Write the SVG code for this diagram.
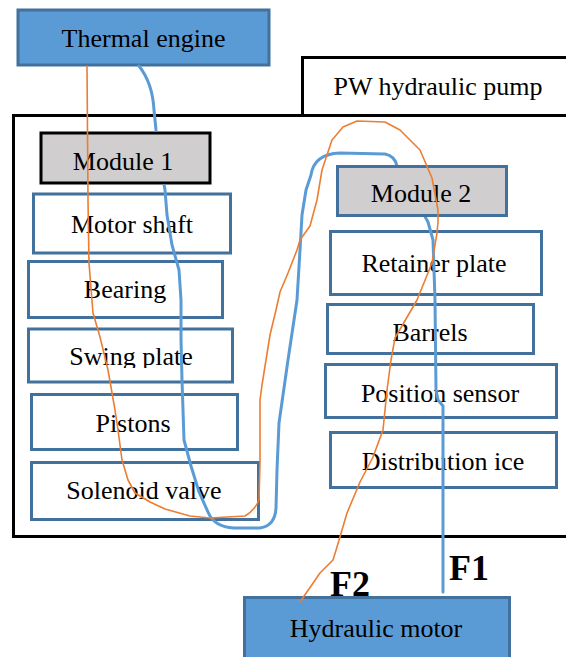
<svg xmlns="http://www.w3.org/2000/svg" width="566" height="657" viewBox="0 0 566 657">
<style>
  .t{font-family:"Liberation Serif","Times New Roman",serif;font-size:26px;fill:#000;text-anchor:middle}
  .f{font-family:"Liberation Serif","Times New Roman",serif;font-size:36px;font-weight:bold;fill:#000}
  .blue{fill:#5B9BD5;stroke:#41719C;stroke-width:3}
  .box{fill:none;stroke:#41719C;stroke-width:3}
  .mod{fill:#D0CECE;stroke-width:3}
  .frame{fill:none;stroke:#000;stroke-width:3}
  .c1{fill:none;stroke:#5B9BD5;stroke-width:3;stroke-linejoin:round;stroke-linecap:round}
  .c2{fill:none;stroke:#ED7D31;stroke-width:1.6;stroke-linejoin:round;stroke-linecap:round}
</style>
<defs>
  <mask id="hideMods" maskUnits="userSpaceOnUse" x="0" y="0" width="566" height="657">
    <rect x="0" y="0" width="566" height="657" fill="#fff"/>
    <rect x="40" y="132" width="171" height="52" fill="#000"/>
    <rect x="336" y="165" width="172" height="52" fill="#000"/>
  </mask>
  <clipPath id="swingClip"><rect x="28" y="328" width="206" height="40"/></clipPath>
</defs>
<rect width="566" height="657" fill="#fff"/>

<g id="pump">
  <rect class="frame" x="13.5" y="115.5" width="560" height="421"/>
  <polyline class="frame" points="302.5,115 302.5,57.5 570,57.5"/>
  <text class="t" x="438" y="95">PW hydraulic pump</text>
</g>

<g id="thermal-engine">
  <rect class="blue" x="18" y="10" width="251" height="55"/>
  <text class="t" x="143.5" y="47">Thermal engine</text>
</g>

<g id="module1">
  <rect class="mod" x="41" y="133" width="169" height="50" stroke="#000"/>
  <text class="t" x="123" y="170">Module 1</text>
</g>
<g id="motor-shaft">
  <rect class="box" x="33.5" y="194" width="197" height="59"/>
  <text class="t" x="132" y="233">Motor shaft</text>
</g>
<g id="bearing">
  <rect class="box" x="28.5" y="261.5" width="194" height="56"/>
  <text class="t" x="125" y="298">Bearing</text>
</g>
<g id="swing-plate">
  <rect class="box" x="28.5" y="329" width="204" height="53"/>
  <text class="t" x="131" y="365" clip-path="url(#swingClip)">Swing plate</text>
</g>
<g id="pistons">
  <rect class="box" x="31.5" y="394.5" width="206" height="55"/>
  <text class="t" x="133" y="432">Pistons</text>
</g>
<g id="solenoid-valve">
  <rect class="box" x="31.5" y="462.5" width="227" height="57"/>
  <text class="t" x="144" y="499">Solenoid valve</text>
</g>

<g id="module2">
  <rect class="mod" x="337.5" y="166.5" width="169" height="49" stroke="#41719C"/>
  <text class="t" x="421" y="202">Module 2</text>
</g>
<g id="retainer-plate">
  <rect class="box" x="330.5" y="231.5" width="211" height="63"/>
  <text class="t" x="434" y="272">Retainer plate</text>
</g>
<g id="barrels">
  <rect class="box" x="327.5" y="304.5" width="206" height="49"/>
  <text class="t" x="430" y="341">Barrels</text>
</g>
<g id="position-sensor">
  <rect class="box" x="325.5" y="364.5" width="231" height="53"/>
  <text class="t" x="440" y="402">Position sensor</text>
</g>
<g id="distribution-ice">
  <rect class="box" x="330.5" y="432.5" width="226" height="55"/>
  <text class="t" x="443" y="470">Distribution ice</text>
</g>

<g id="hydraulic-motor">
  <rect class="blue" x="244.5" y="597.5" width="265" height="65"/>
  <text class="t" x="376" y="637">Hydraulic motor</text>
</g>

<g id="connectors">
  <path class="c1" mask="url(#hideMods)" d="M139,66 C147,76 153,92 154,110 L156,130 L160,160 L165,190 L167,215 L172,245 L179,270 L181,300 L181,340 L182,380 L184,440 L191,466 L199,492 L208,512 Q214,527 234,528 L260,528 Q275,526 276,508 L277,470 L279,423 L288,360 L297,300 L300,250 L302,215 L306,190 L311,175 Q314,154 340,153 L385,154 Q395,156 397,166 L428,222 L433,240 L435,300 L436,390 L438,400 L443,406 L443,592"/>
  <path class="c2" d="M87,66 L88,200 L89,263 L93,313 L100,337 L108,370 L115,410 L118,430 L122,460 L128,480 L135,493 L150,502 L165,509 L190,516 L210,518 L245,516 Q255,510 259,500 L260,462 L260,400 L262,385 L266,360 L270,335 L276,310 L280,292 L288,273 L297,250 L300,240 L310,226 L317,200 L322,170 L332,140 L343,127 L357,121 L385,122 L400,130 L420,150 L432,178 L438,210 L438,222 L437,233 L432,263 L417,300 L395,338 L391,360 L387,390 L383,430 L373,457 L360,482 L347,513 L337,547 L333,560 L320,573 L300,602"/>
  <text class="f" x="449" y="580">F1</text>
  <text class="f" x="330" y="596">F2</text>
</g>
</svg>
